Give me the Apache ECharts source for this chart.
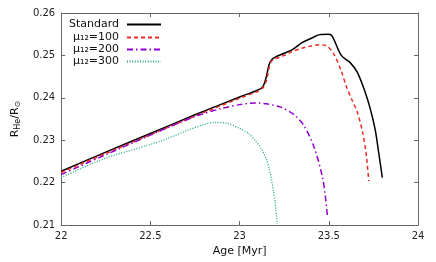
<!DOCTYPE html>
<html>
<head>
<meta charset="utf-8">
<script src="https://cdn.jsdelivr.net/npm/echarts@6/dist/echarts.min.js"></script>
<style>html,body{margin:0;padding:0;background:#fff}#c{width:436px;height:262px}</style>
</head>
<body>
<div id="c"></div>
<script>
const seriesNames = ['Standard', 'μ₁₂=100', 'μ₁₂=200', 'μ₁₂=300'];

const ageStd = [22.00, 22.25, 22.50, 22.75, 23.00, 23.10, 23.13, 23.15, 23.165, 23.18, 23.20, 23.25, 23.30, 23.35, 23.40, 23.45, 23.50, 23.52, 23.57, 23.62, 23.66, 23.70, 23.73, 23.76, 23.78, 23.80];
const rStd   = [0.2227, 0.2272, 0.2316, 0.2360, 0.2402, 0.2418, 0.2426, 0.2450, 0.2478, 0.2490, 0.2496, 0.2505, 0.2515, 0.2530, 0.2540, 0.2549, 0.2550, 0.2545, 0.2500, 0.2483, 0.2460, 0.2418, 0.2378, 0.2325, 0.2270, 0.2212];

const age100 = [22.00, 22.25, 22.50, 22.75, 23.00, 23.10, 23.13, 23.15, 23.165, 23.18, 23.25, 23.30, 23.35, 23.40, 23.45, 23.49, 23.53, 23.57, 23.60, 23.63, 23.66, 23.69, 23.71, 23.724];
const r100   = [0.2224, 0.2269, 0.2313, 0.2357, 0.2399, 0.2415, 0.2423, 0.2440, 0.2470, 0.2487, 0.2500, 0.2510, 0.2517, 0.2522, 0.2525, 0.2522, 0.2502, 0.2463, 0.2425, 0.2395, 0.2366, 0.2318, 0.2266, 0.2204];

const age200 = [22.00, 22.25, 22.50, 22.75, 22.90, 23.00, 23.09, 23.15, 23.23, 23.30, 23.36, 23.42, 23.465, 23.48, 23.493];
const r200   = [0.2219, 0.2266, 0.2312, 0.2356, 0.2375, 0.2384, 0.2388, 0.2386, 0.2378, 0.2362, 0.2335, 0.2281, 0.2212, 0.2170, 0.2119];

const age300 = [22.00, 22.25, 22.50, 22.60, 22.70, 22.80, 22.86, 22.93, 22.99, 23.05, 23.09, 23.12, 23.15, 23.17, 23.19, 23.20, 23.211];
const r300   = [0.2212, 0.2258, 0.2290, 0.2305, 0.2322, 0.2337, 0.2342, 0.2340, 0.2330, 0.2316, 0.2298, 0.2281, 0.2255, 0.2225, 0.2180, 0.2150, 0.2103];

const xTicks = [22, 22.5, 23, 23.5, 24];
const yTicks = [0.21, 0.22, 0.23, 0.24, 0.25, 0.26];

const pairs = (xs, ys) => xs.map((x, i) => [x, ys[i]]);

const FONT = 'DejaVu Sans';
const axisCol = '#666';
const tickCommon = {show: true, inside: true, length: 4, lineStyle: {color: axisCol}};

const chart = echarts.init(document.getElementById('c'), null, {renderer: 'canvas'});

const legendTops = [19, 32, 44, 56];
const legends = seriesNames.map((n, i) => ({
  data: [n], right: 274, top: legendTops[i], orient: 'vertical', align: 'right',
  padding: 0, itemWidth: 34, itemHeight: 12, selectedMode: false,
  itemStyle: {opacity: 0},
  textStyle: {fontFamily: FONT, fontSize: 11, color: '#111', padding: [0, 3, 0, 0]}
}));

const SM = 0.3;

chart.setOption({
  animation: false,
  textStyle: {fontFamily: FONT},
  grid: {left: 58, right: 18, top: 13, bottom: 34},
  legend: legends,
  xAxis: [{
    type: 'value', min: xTicks[0], max: xTicks[xTicks.length - 1], interval: 0.5,
    name: 'Age [Myr]', nameLocation: 'middle', nameGap: 20,
    nameTextStyle: {fontFamily: FONT, fontSize: 11, color: '#111'},
    axisLine: {show: true, lineStyle: {color: axisCol, width: 1}},
    axisTick: tickCommon,
    axisLabel: {fontFamily: FONT, fontSize: 10, color: '#222', margin: 6},
    splitLine: {show: false}
  }, {
    type: 'value', position: 'top', min: xTicks[0], max: xTicks[xTicks.length - 1], interval: 0.5,
    axisLine: {show: true, lineStyle: {color: axisCol, width: 1}},
    axisTick: tickCommon, axisLabel: {show: false}, splitLine: {show: false}
  }],
  yAxis: [{
    type: 'value', min: yTicks[0], max: yTicks[yTicks.length - 1], interval: 0.01,
    name: 'R{s|He}/R{s|⊙}', nameLocation: 'middle', nameGap: 37, nameRotate: 90,
    nameTextStyle: {fontFamily: FONT, fontSize: 11, color: '#111', lineHeight: 14,
      rich: {s: {fontFamily: FONT, fontSize: 8, lineHeight: 8, verticalAlign: 'bottom', color: '#111'}}},
    axisLine: {show: true, lineStyle: {color: axisCol, width: 1}},
    axisTick: tickCommon,
    axisLabel: {fontFamily: FONT, fontSize: 10, color: '#222', margin: 6, formatter: v => v.toFixed(2)},
    splitLine: {show: false}
  }, {
    type: 'value', position: 'right', min: yTicks[0], max: yTicks[yTicks.length - 1], interval: 0.01,
    axisLine: {show: true, lineStyle: {color: axisCol, width: 1}},
    axisTick: tickCommon, axisLabel: {show: false}, splitLine: {show: false}
  }],
  series: [
    {name: seriesNames[0], type: 'line', data: pairs(ageStd, rStd), showSymbol: false, symbol: 'none', smooth: SM,
     color: '#000', lineStyle: {color: '#000', width: 1.5, type: 'solid'}},
    {name: seriesNames[1], type: 'line', data: pairs(age100, r100), showSymbol: false, symbol: 'none', smooth: SM,
     color: '#ee2a22', lineStyle: {color: '#ee2a22', width: 1.5, type: [4, 3]}},
    {name: seriesNames[2], type: 'line', data: pairs(age200, r200), showSymbol: false, symbol: 'none', smooth: SM,
     color: '#9400d3', lineStyle: {color: '#9400d3', width: 1.5, type: [6, 3, 1.5, 3]}},
    {name: seriesNames[3], type: 'line', data: pairs(age300, r300), showSymbol: false, symbol: 'none', smooth: SM,
     color: '#009e73', lineStyle: {color: '#1aaa80', width: 1.3, type: [1, 1.6]}}
  ]
});
</script>
</body>
</html>
